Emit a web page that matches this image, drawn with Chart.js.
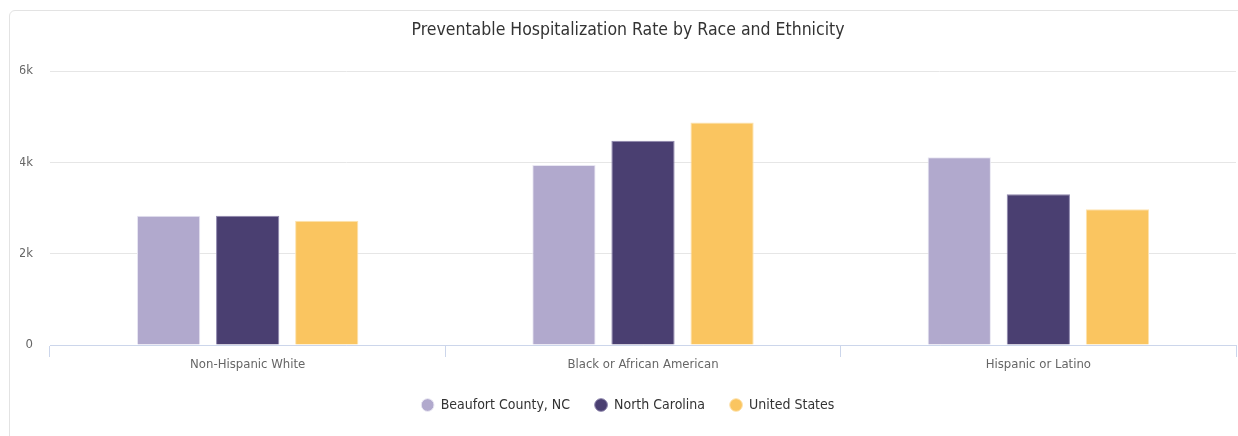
<!DOCTYPE html>
<html>
<head>
<meta charset="utf-8">
<script src="https://cdn.jsdelivr.net/npm/chart.js@4/dist/chart.umd.min.js"></script>
<style>
  html, body { margin: 0; padding: 0; background: #fff; }
  #wrap { position: relative; width: 1238px; height: 436px; overflow: hidden; }
  #card { position: absolute; left: 9px; top: 10px; width: 1260px; height: 460px;
          border: 1px solid #e3e3e3; border-radius: 6px; box-sizing: border-box; }
  #myChart { position: absolute; left: 0; top: 0; }
</style>
</head>
<body>
<div id="wrap">
  <div id="card"></div>
  <canvas id="myChart" width="1238" height="436"></canvas>
</div>
<script>
const CATEGORIES = ['Non-Hispanic White', 'Black or African American', 'Hispanic or Latino'];
const BEAUFORT = [2830, 3940, 4110];
const NORTH_CAROLINA = [2830, 4470, 3300];
const UNITED_STATES = [2720, 4870, 2970];
const Y_TICKS = [0, 2000, 4000, 6000];

const FONT = '"DejaVu Sans Condensed", "DejaVu Sans", sans-serif';
Chart.defaults.font.family = FONT;

const ctx = document.getElementById('myChart');

window.myChart = new Chart(ctx, {
    type: 'bar',
    data: {
        labels: CATEGORIES,
        datasets: [{
            label: 'Beaufort County, NC',
            data: BEAUFORT,
            backgroundColor: '#b1a9cd',
            borderColor: '#e8e6f2',
            borderWidth: 1
        }, {
            label: 'North Carolina',
            data: NORTH_CAROLINA,
            backgroundColor: '#4a3f71',
            borderColor: '#8e86ad',
            borderWidth: 1
        }, {
            label: 'United States',
            data: UNITED_STATES,
            backgroundColor: '#fac560',
            borderColor: '#fde3b0',
            borderWidth: 1
        }]
    },
    options: {
        responsive: false,
        animation: false,
        categoryPercentage: 0.6,
        barPercentage: 0.8,
        layout: { padding: { left: 20, right: 2, top: 0, bottom: 14 } },
        plugins: {
            title: {
                display: true,
                text: 'Preventable Hospitalization Rate by Race and Ethnicity',
                color: '#333333',
                font: { size: 17.5, weight: 'normal' },
                padding: { top: 20, bottom: 30 }
            },
            legend: {
                position: 'bottom',
                labels: {
                    usePointStyle: true,
                    pointStyle: 'circle',
                    boxHeight: 9,
                    boxWidth: 12,
                    padding: 25,
                    color: '#333333',
                    font: { size: 14 }
                }
            },
            tooltip: { enabled: false }
        },
        scales: {
            x: {
                grid: {
                    display: true,
                    drawOnChartArea: false,
                    drawTicks: true,
                    tickLength: 12,
                    color: '#ccd6eb'
                },
                border: { display: true, color: '#ccd6eb' },
                ticks: { color: '#666666', font: { size: 13 }, padding: 0 },
                afterFit: function (scale) { scale.height = 28; }
            },
            y: {
                min: 0,
                max: 6000,
                afterBuildTicks: function (scale) {
                    scale.ticks = Y_TICKS.map(v => ({ value: v }));
                },
                grid: { color: '#e6e6e6', drawTicks: false },
                border: { display: false },
                ticks: {
                    color: '#666666',
                    font: { size: 13 },
                    padding: 17,
                    callback: function (v) { return v === 0 ? '0' : (v / 1000) + 'k'; }
                },
                afterFit: function (scale) { scale.width = 30; }
            }
        }
    }
});
</script>
</body>
</html>
